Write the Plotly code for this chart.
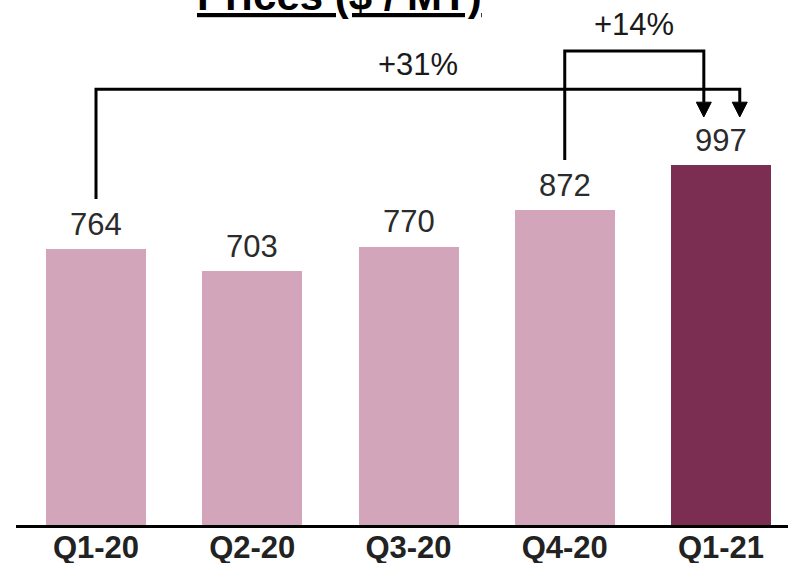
import plotly.graph_objects as go

categories = ["Q1-20", "Q2-20", "Q3-20", "Q4-20", "Q1-21"]
prices = [764, 703, 770, 872, 997]
bar_colors = ["#D2A5BA", "#D2A5BA", "#D2A5BA", "#D2A5BA", "#7C2D52"]
title_text = "Prices ($ / MT)"
changes = [("+31%", 0, 4), ("+14%", 3, 4)]  # label, from index, to index

FONT = "Arial, 'Liberation Sans', sans-serif"
idx = list(range(len(categories)))

fig = go.Figure()
fig.add_trace(go.Bar(
    x=idx, y=prices, marker=dict(color=bar_colors, line=dict(width=0)),
    width=0.64, hoverinfo="skip", showlegend=False,
))

annotations = []
for i, v in zip(idx, prices):
    annotations.append(dict(
        x=i, y=v, xref="x", yref="y", text=str(v), showarrow=False,
        yanchor="middle", yshift=25,
        font=dict(family=FONT, size=31, color="#2b2b2b"),
    ))

shapes = []
# bracket geometry (data units relative to values)
start_gap = 139
arrow_tip_gap = 133
arrow_head_h = 41
arrow_half_w = 0.048
bracket_levels = [1207, 1313]
arrow_offsets = [0.12, -0.11]
label_gaps = [67, 72]
for (lab, a, b), yh, dx, lg in zip(changes, bracket_levels, arrow_offsets, label_gaps):
    x0 = a
    x1 = b + dx
    y0 = prices[a] + start_gap
    ytip = prices[b] + arrow_tip_gap
    ytop = ytip + arrow_head_h
    shapes.append(dict(
        type="path", xref="x", yref="y",
        path=f"M {x0},{y0} L {x0},{yh} L {x1},{yh} L {x1},{ytop}",
        line=dict(color="black", width=3),
    ))
    shapes.append(dict(
        type="path", xref="x", yref="y",
        path=f"M {x1-arrow_half_w},{ytop} L {x1+arrow_half_w},{ytop} L {x1},{ytip} Z",
        fillcolor="black", line=dict(color="black", width=1),
    ))
    annotations.append(dict(
        x=(x0 + x1) / 2, y=yh + lg, xref="x", yref="y", text=lab,
        showarrow=False, yanchor="middle",
        font=dict(family=FONT, size=31, color="#1a1a1a"),
    ))

annotations.append(dict(
    x=0.4184, y=1, xref="paper", yref="paper",
    text=f"<b><u>{title_text}</u></b>", showarrow=False,
    xanchor="center", yanchor="middle", yshift=5,
    font=dict(family=FONT, size=42, color="black"),
))

fig.update_layout(
    width=788, height=563,
    margin=dict(l=16, r=0, t=0, b=38),
    paper_bgcolor="white", plot_bgcolor="white",
    bargap=0,
    xaxis=dict(
        range=[-0.512, 4.4288], tickmode="array", tickvals=idx, ticktext=categories,
        showline=True, linecolor="black", linewidth=3, showgrid=False,
        zeroline=False, ticks="", automargin=False, ticklabelstandoff=-7,
        tickfont=dict(family=FONT, size=31, color="#222222", weight="bold"),
    ),
    yaxis=dict(range=[0, 1454], visible=False, showgrid=False, zeroline=False,
               automargin=False),
    shapes=shapes, annotations=annotations,
)

fig.write_html("out.html")
